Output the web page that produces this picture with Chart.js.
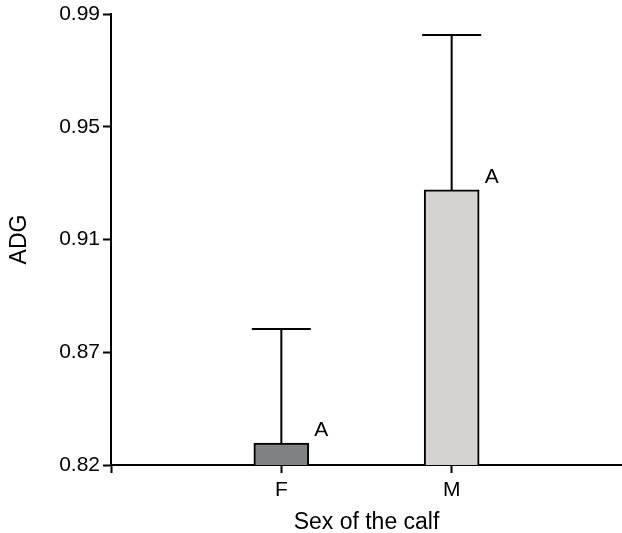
<!DOCTYPE html>
<html><head><meta charset="utf-8">
<script src="https://cdn.jsdelivr.net/npm/chart.js@4/dist/chart.umd.min.js"></script>
<style>html,body{margin:0;padding:0;background:#fff;overflow:hidden}#wrap{width:622px;height:533px}</style>
</head><body><div id="wrap"><canvas id="c"></canvas></div>
<script>
const categories = ['F', 'M'];
const meanADG = [0.8283, 0.9237];
const upperADG = [0.8713, 0.9821];
const letters = ['A', 'A'];
const barColors = ['#7f8282', '#d4d3d1'];
const yTickValues = [0.82, 0.8625, 0.905, 0.9475, 0.99];
const yTickLabels = ['0.82', '0.87', '0.91', '0.95', '0.99'];

const labels = [''].concat(categories, ['']);
const dataVals = [null].concat(meanADG, [null]);
const colors = ['#fff'].concat(barColors, ['#fff']);
const uppers = [null].concat(upperADG, [null]);
const lets = [null].concat(letters, [null]);
const FONT = '"Liberation Sans", Arial, sans-serif';

const errPlugin = {
  id: 'errbars',
  afterDatasetsDraw(chart) {
    const ctx = chart.ctx, ys = chart.scales.y;
    const meta = chart.getDatasetMeta(0);
    ctx.save();
    meta.data.forEach((el, i) => {
      if (uppers[i] == null) return;
      const x = el.x, top = ys.getPixelForValue(dataVals[i]), up = ys.getPixelForValue(uppers[i]);
      ctx.strokeStyle = '#000'; ctx.lineWidth = 2;
      ctx.beginPath(); ctx.moveTo(x, top); ctx.lineTo(x, up);
      ctx.moveTo(x - 29.5, up); ctx.lineTo(x + 29.5, up); ctx.stroke();
      ctx.fillStyle = '#000'; ctx.font = '21px ' + FONT;
      ctx.textAlign = 'left'; ctx.textBaseline = 'alphabetic';
      ctx.fillText(lets[i], x + 33, top - 7);
    });
    ctx.restore();
  }
};

new Chart(document.getElementById('c'), {
  type: 'bar',
  data: { labels, datasets: [{ data: dataVals, backgroundColor: colors, borderColor: '#000', borderWidth: 2, borderSkipped: false, barThickness: 55 }] },
  options: {
    responsive: true, maintainAspectRatio: false, animation: false,
    layout: { padding: { top: 14, right: 0, left: 0, bottom: 0 } },
    plugins: { legend: { display: false }, tooltip: { enabled: false } },
    scales: {
      x: {
        offset: false,
        grid: { display: true, offset: false, drawOnChartArea: false, drawTicks: true, tickLength: 8, tickWidth: 2,
                tickColor: c => (c.index === labels.length - 1 ? 'rgba(0,0,0,0)' : '#000') },
        border: { display: true, color: '#000', width: 2 },
        ticks: { color: '#000', font: { size: 21, family: FONT }, padding: 5, maxRotation: 0, autoSkip: false },
        title: { display: true, text: 'Sex of the calf', color: '#000', font: { size: 23, family: FONT }, padding: { top: 18, bottom: -3 } },
        afterFit(s) { s.height = 68; s.paddingLeft = 0; s.paddingRight = 0; }
      },
      y: {
        min: 0.82, max: 0.99,
        afterBuildTicks(s) { s.ticks = yTickValues.map(v => ({ value: v })); },
        grid: { display: true, drawOnChartArea: false, drawTicks: true, tickLength: 8, tickWidth: 2, tickColor: '#000' },
        border: { display: true, color: '#000', width: 2 },
        ticks: { color: '#000', font: { size: 21, family: FONT }, padding: 3, callback: (v, i) => yTickLabels[i] },
        title: { display: true, text: 'ADG', color: '#000', font: { size: 23, family: FONT }, padding: { top: 6, bottom: 0 } },
        afterFit(s) { s.width = 111; s.paddingTop = 0; s.paddingBottom = 0; }
      }
    }
  },
  plugins: [errPlugin]
});
</script></body></html>
